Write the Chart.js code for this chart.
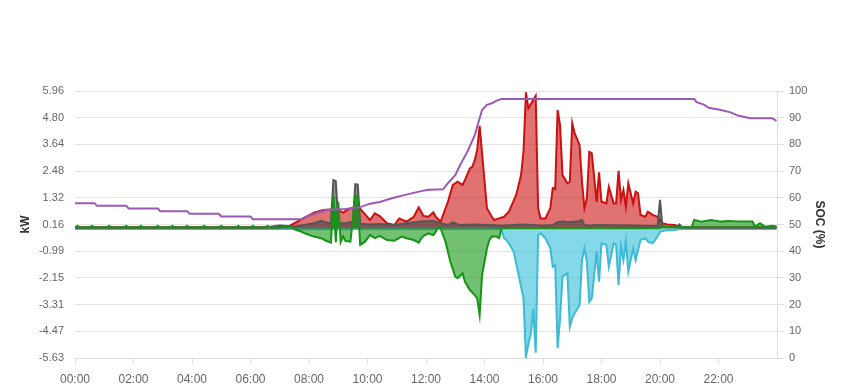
<!DOCTYPE html>
<html>
<head>
<meta charset="utf-8">
<script src="https://cdn.jsdelivr.net/npm/chart.js@4.4.1/dist/chart.umd.min.js"></script>
<style>
  html, body { margin: 0; padding: 0; background: #fff; }
</style>
</head>
<body>
<canvas id="grafico" width="849" height="390"></canvas>
<script>
// ===============================
//  DATI
// ===============================
const kwTicks = [-5.63, -4.47, -3.31, -2.15, -0.99, 0.16, 1.32, 2.48, 3.64, 4.80, 5.96];

const socTimes = ["00:00","00:40","00:45","01:45","01:50","02:50","02:55","03:50","03:55","04:55","05:00","06:00","06:05","07:45","07:55","08:15","08:35","09:15","09:45","10:05","10:25","10:50","11:15","11:50","12:05","12:35","12:45","13:00","13:10","13:25","13:40","13:50","13:55","14:05","14:15","14:25","14:35","21:10","21:15","21:30","21:40","22:05","22:25","22:40","23:05","23:50","23:59"];
const socPct = [58,58,57,57,56,56,55,55,54,54,53,53,52,52,53,54.2,55.4,55.8,56.5,57.8,58.4,59.8,61,62.5,63,63.2,65.5,68.5,72.3,77.3,83.5,89.8,92.9,94.8,95.4,96.4,97,97,95.8,94.9,93.7,92.9,92,90.8,89.8,89.8,88.8];

const redTimes = ["00:00","07:00","07:20","08:10","08:30","08:45","09:00","09:10","09:20","09:40","09:50","10:05","10:15","10:25","10:40","10:55","11:05","11:20","11:35","11:45","11:55","12:05","12:15","12:20","12:30","12:45","12:55","13:05","13:15","13:20","13:30","13:35","13:40","13:45","13:50","14:05","14:15","14:20","14:30","14:40","14:50","15:05","15:15","15:20","15:25","15:30","15:40","15:45","15:50","15:55","16:05","16:15","16:20","16:25","16:30","16:35","16:40","16:50","16:55","17:00","17:05","17:15","17:20","17:25","17:30","17:35","17:40","17:50","17:55","18:00","18:10","18:15","18:25","18:30","18:35","18:40","18:45","18:50","18:55","19:05","19:10","19:15","19:20","19:30","19:35","19:45","19:55","20:00","20:05","20:15","20:30","20:40","21:00","23:59"];
const redKw = [0.05,0.05,0.10,0.68,0.79,0.82,0.80,0.68,0.82,0.97,0.72,0.36,0.65,0.53,0.22,0.14,0.43,0.29,0.50,0.91,0.53,0.50,0.69,0.50,0.29,1.15,1.88,2.02,1.88,2.10,2.60,2.67,2.96,3.40,4.45,0.87,0.50,0.36,0.43,0.50,0.72,1.45,2.31,3.32,5.90,5.21,5.57,5.75,0.87,0.43,0.43,0.87,1.74,1.70,5.13,4.48,2.31,1.95,2.02,4.56,4.12,3.62,2.02,0.87,1.30,3.32,3.26,1.15,2.43,1.15,1.08,1.80,1.08,1.08,2.49,1.23,1.66,0.94,1.95,1.08,1.59,1.52,0.58,0.50,0.72,0.58,0.50,0.36,0.22,0.17,0.14,0.07,0.05,0.05];

const grayTimes = ["00:00","06:30","07:00","07:30","07:50","08:10","08:25","08:40","08:45","08:50","08:55","09:00","09:15","09:30","09:35","09:40","09:45","10:05","10:25","10:55","11:20","11:50","12:15","12:30","12:45","12:55","13:10","13:40","14:10","14:35","15:15","15:40","16:00","16:20","16:30","16:40","16:50","17:10","17:20","17:25","17:35","17:50","19:00","19:55","20:00","20:05","20:35","20:40","20:45","23:59"];
const grayKw = [0.03,0.03,0.12,0.08,0.14,0.22,0.33,0.22,0.25,2.10,2.05,0.22,0.22,0.29,1.92,1.90,0.20,0.17,0.19,0.14,0.22,0.29,0.32,0.22,0.14,0.26,0.14,0.17,0.14,0.11,0.17,0.14,0.11,0.14,0.26,0.29,0.26,0.29,0.36,0.14,0.11,0.14,0.12,0.10,1.23,0.07,0.07,0.17,0.05,0.03];

const greenTimes = ["00:00","00:05","00:10","00:30","00:35","00:40","01:05","01:10","01:15","01:40","01:45","01:50","02:10","02:15","02:20","02:45","02:50","02:55","03:15","03:20","03:25","03:45","03:50","03:55","04:20","04:25","04:30","04:55","05:00","05:05","05:30","05:35","05:40","06:00","06:05","06:10","06:30","06:35","06:40","07:00","07:20","07:30","07:45","07:55","08:10","08:25","08:35","08:45","08:50","08:55","09:00","09:05","09:10","09:15","09:25","09:30","09:35","09:40","09:45","09:55","10:05","10:15","10:25","10:40","10:55","11:10","11:20","11:35","11:45","11:50","11:55","12:05","12:15","12:20","12:25","12:30","12:40","12:50","13:00","13:05","13:15","13:20","13:30","13:40","13:45","13:50","13:55","14:05","14:10","14:15","14:25","14:30","14:35","20:00","20:05","20:15","21:05","21:10","21:25","21:45","22:05","22:20","22:40","23:10","23:15","23:25","23:35","23:50","23:59"];
const greenKw = [0.04,0.10,0.04,0.04,0.10,0.04,0.04,0.10,0.04,0.04,0.10,0.04,0.04,0.10,0.04,0.04,0.10,0.04,0.04,0.10,0.04,0.04,0.10,0.04,0.04,0.10,0.04,0.04,0.10,0.04,0.04,0.10,0.04,0.04,0.10,0.04,0.04,0.10,0.04,0.04,0.10,-0.04,-0.15,-0.25,-0.36,-0.43,-0.54,-0.62,1.40,-0.60,1.15,-0.60,-0.35,-0.55,-0.58,0.40,1.44,1.30,-0.72,-0.58,-0.29,-0.43,-0.33,-0.51,-0.54,-0.36,-0.43,-0.51,-0.62,-0.45,-0.33,-0.22,-0.29,-0.15,0.07,0.00,-0.58,-1.45,-2.10,-2.17,-1.95,-2.32,-2.68,-2.90,-3.04,-3.76,-2.03,-0.87,-0.51,-0.36,-0.36,-0.43,0.00,0.00,0.10,0.05,0.05,0.36,0.29,0.36,0.29,0.32,0.29,0.29,0.07,0.22,0.07,0.11,0.08];

const cyanTimes = ["00:00","14:35","14:40","14:45","14:50","15:00","15:10","15:20","15:25","15:30","15:35","15:40","15:45","15:50","15:55","16:05","16:15","16:20","16:25","16:30","16:35","16:40","16:50","16:55","17:00","17:05","17:15","17:20","17:25","17:30","17:35","17:40","17:50","17:55","18:00","18:10","18:15","18:25","18:30","18:35","18:40","18:45","18:50","18:55","19:05","19:10","19:15","19:20","19:30","19:35","19:45","19:55","20:00","20:10","20:30","20:40","23:59"];
const cyanKw = [-0.03,-0.03,-0.43,-0.51,-0.65,-1.02,-2.03,-3.04,-5.60,-5.00,-4.60,-3.50,-5.40,-0.29,-0.22,-0.43,-0.87,-1.67,-1.59,-5.21,-3.90,-2.10,-1.95,-4.27,-3.90,-3.69,-3.33,-1.38,-0.87,-1.45,-3.19,-3.04,-1.02,-2.32,-0.65,-0.72,-1.67,-0.65,-0.72,-2.46,-0.80,-1.38,-0.58,-1.88,-0.87,-1.38,-0.94,-0.51,-0.43,-0.58,-0.65,-0.36,-0.15,-0.10,-0.07,-0.03,-0.03];

// ===============================
//  HELPERS
// ===============================
function toMin(hhmm) {
  const [h, m] = hhmm.split(":").map(Number);
  return h * 60 + m;
}
function toHHMM(min) {
  const h = Math.floor(min / 60), m = min % 60;
  return String(h).padStart(2, "0") + ":" + String(m).padStart(2, "0");
}
function punti(times, values) {
  return times.map((t, i) => ({ x: toMin(t), y: values[i] }));
}

Chart.defaults.font.family = "'Liberation Sans', Arial, sans-serif";
Chart.defaults.font.size = 12;
Chart.defaults.color = "#666";

// ===============================
//  GRAFICO
// ===============================
const ctx = document.getElementById("grafico").getContext("2d");

new Chart(ctx, {
  type: "line",
  data: {
    datasets: [
      {
        label: "SOC",
        data: punti(socTimes, socPct),
        yAxisID: "ySoc",
        borderColor: "#9b59b6",
        borderWidth: 2,
        fill: false
      },
      {
        label: "Rete",
        data: punti(greenTimes, greenKw),
        borderColor: "rgb(20,150,20)",
        backgroundColor: "rgba(20,150,20,0.6)",
        borderWidth: 2,
        fill: "origin"
      },
      {
        label: "Batteria",
        data: punti(grayTimes, grayKw),
        borderColor: "rgb(85,85,85)",
        backgroundColor: "rgba(60,60,60,0.55)",
        borderWidth: 2,
        fill: "origin"
      },
      {
        label: "Consumo",
        data: punti(redTimes, redKw),
        borderColor: "rgb(204,16,16)",
        backgroundColor: "rgba(204,20,20,0.6)",
        borderWidth: 2,
        fill: "origin"
      },
      {
        label: "Solare",
        data: punti(cyanTimes, cyanKw),
        borderColor: "rgb(60,186,214)",
        backgroundColor: "rgba(50,190,215,0.6)",
        borderWidth: 2,
        fill: "origin"
      }
    ]
  },
  options: {
    responsive: false,
    animation: false,
    layout: { padding: { top: 91, left: 0, right: 0, bottom: 0 } },
    elements: {
      point: { radius: 0 },
      line: { tension: 0 }
    },
    plugins: {
      legend: { display: false },
      tooltip: { enabled: false }
    },
    scales: {
      x: {
        type: "linear",
        min: 0,
        max: 1440,
        afterBuildTicks: s => { s.ticks = s.ticks.filter(t => t.value < 1440); },
        afterFit: s => { s.height = 32; },
        ticks: {
          stepSize: 120,
          autoSkip: false,
          maxRotation: 0,
          padding: 8,
          callback: v => toHHMM(v)
        },
        grid: { drawOnChartArea: false, tickLength: 6, color: "#ddd" },
        border: { color: "#ddd" }
      },
      y: {
        position: "left",
        min: kwTicks[0],
        max: kwTicks[kwTicks.length - 1],
        afterBuildTicks: s => { s.ticks = kwTicks.map(v => ({ value: v })); },
        afterFit: s => { s.width = 75; },
        ticks: { padding: 11, font: { size: 11 }, callback: v => v.toFixed(2) },
        grid: { color: "#e4e4e4", drawTicks: false },
        border: { display: false },
        title: {
          display: true,
          text: "kW",
          color: "#333",
          font: { weight: "bold", size: 12 },
          padding: { top: 18, bottom: 0 }
        }
      },
      ySoc: {
        position: "right",
        min: 0,
        max: 100,
        afterFit: s => { s.width = 72; },
        ticks: { stepSize: 10, padding: 5, font: { size: 11 } },
        grid: { drawOnChartArea: false, tickLength: 7, color: "#ddd" },
        border: { color: "#ddd" },
        title: {
          display: true,
          text: "SOC (%)",
          color: "#333",
          font: { weight: "bold", size: 12 },
          padding: { top: 22, bottom: 0 }
        }
      }
    }
  }
});
</script>
</body>
</html>
